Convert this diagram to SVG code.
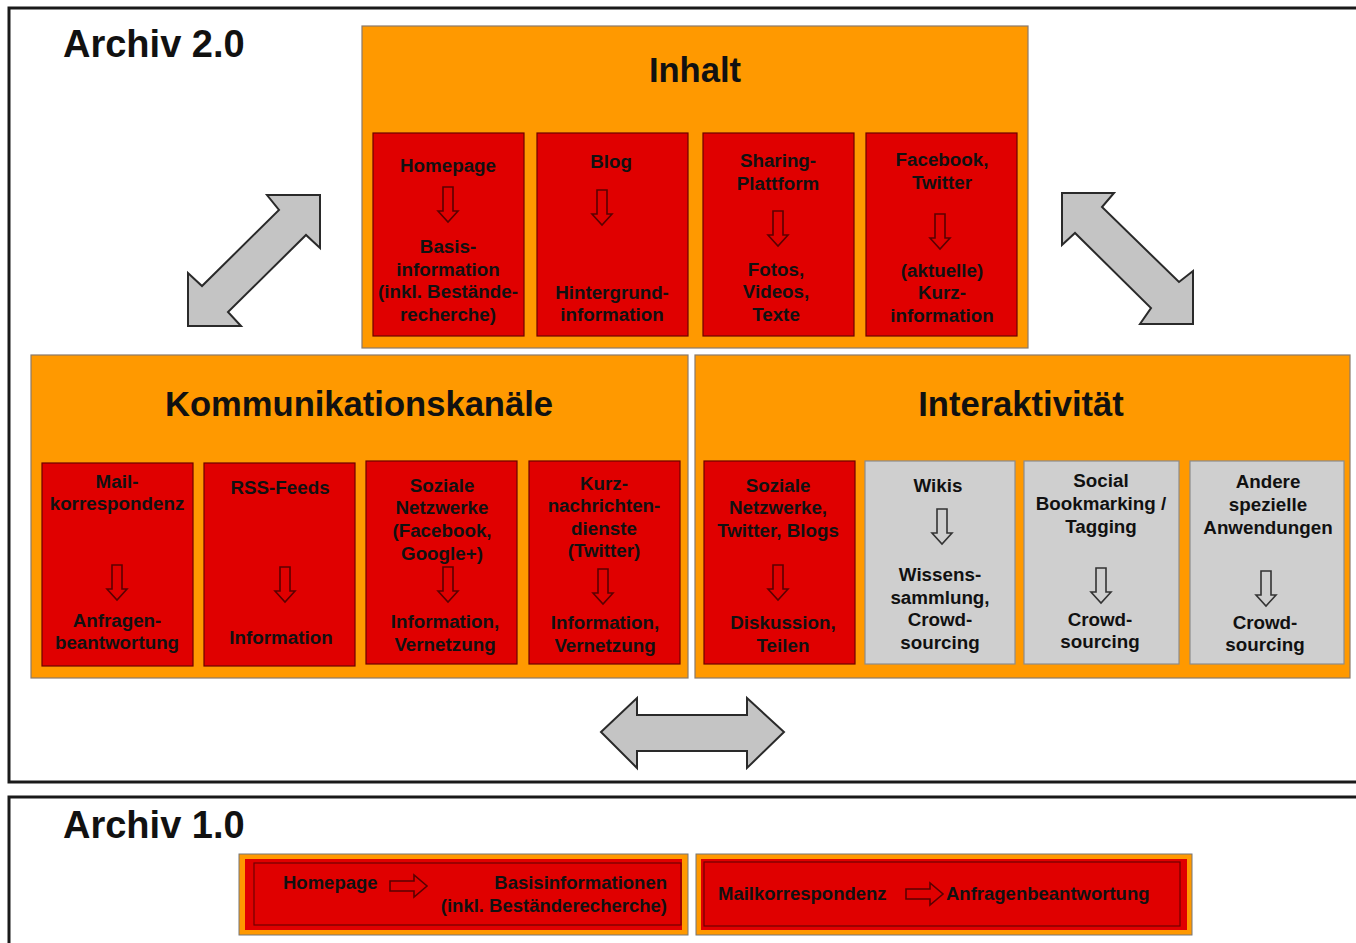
<svg xmlns="http://www.w3.org/2000/svg" xmlns:xlink="http://www.w3.org/1999/xlink" width="1356" height="943" viewBox="0 0 1356 943">
<style>
.frame{fill:none;stroke:#1a1a1a;stroke-width:3}
.cont{fill:#FF9900;stroke:#8a7a6a;stroke-width:1.2}
.red{fill:#E00000;stroke:#6b0000;stroke-width:1.2}
.gray{fill:#CFCFCF;stroke:#8c8c8c;stroke-width:1.2}
.big{fill:#C4C4C4;stroke:#2a2a2a;stroke-width:2;stroke-linejoin:miter}
.arr{fill:none;stroke:#5a0000;stroke-width:1.6}
.arrg{fill:none;stroke:#333;stroke-width:1.6}
.h1{font-family:"Liberation Sans",Arial,sans-serif;font-weight:bold;font-size:38px;fill:#111}
.h2{font-family:"Liberation Sans",Arial,sans-serif;font-weight:bold;font-size:34.6px;fill:#111;text-anchor:middle}
.t{font-family:"Liberation Sans",Arial,sans-serif;font-weight:bold;font-size:18.8px;fill:#111;text-anchor:middle}
.tl{font-family:"Liberation Sans",Arial,sans-serif;font-weight:bold;font-size:18.5px;fill:#111}
.tr{font-family:"Liberation Sans",Arial,sans-serif;font-weight:bold;font-size:18.5px;fill:#111;text-anchor:end}
</style>
<defs>
<path id="darr" d="M-5,0 H5 V24 H10 L0,35 L-10,24 H-5 Z"/>
<path id="rarr" d="M0,-5 H24 V-11 L37,0 L24,11 V5 H0 Z"/>
</defs>
<rect width="1356" height="943" fill="#ffffff"/>

<g id="archiv2">
<rect class="frame" x="9" y="8" width="1360" height="774"/>
<text class="h1" x="63" y="57">Archiv 2.0</text>
</g>

<g id="connectors">
<path class="big" d="M320,195 L267,195 L279,210 L202,286 L188,273 L188,326 L241,326 L228,312 L306,235 L320,248 Z"/>
<path class="big" d="M1062,193 L1114,193 L1102,207 L1179,282 L1193,271 L1193,324 L1140,324 L1151,308 L1075,233 L1062,245 Z"/>
<path class="big" d="M601,732 L637,698 L637,715 L747,715 L747,698 L784,732 L747,768 L747,751 L637,751 L637,768 Z"/>
</g>

<g id="inhalt">
<rect class="cont" x="362" y="26" width="666" height="322"/>
<text class="h2" x="695" y="82">Inhalt</text>
<g id="inhalt-homepage">
<rect class="red" x="373" y="133" width="151" height="203"/>
<text class="t" x="448" y="172">Homepage</text>
<use href="#darr" x="448" y="187" class="arr"/>
<text class="t" x="448" y="253">Basis-</text>
<text class="t" x="448" y="276">information</text>
<text class="t" x="448" y="298">(inkl. Bestände-</text>
<text class="t" x="448" y="321">recherche)</text>
</g>
<g id="inhalt-blog">
<rect class="red" x="537" y="133" width="151" height="203"/>
<text class="t" x="611" y="168">Blog</text>
<use href="#darr" x="602" y="190" class="arr"/>
<text class="t" x="612" y="299">Hintergrund-</text>
<text class="t" x="612" y="321">information</text>
</g>
<g id="inhalt-sharing">
<rect class="red" x="703" y="133" width="151" height="203"/>
<text class="t" x="778" y="167">Sharing-</text>
<text class="t" x="778" y="190">Plattform</text>
<use href="#darr" x="778" y="211" class="arr"/>
<text class="t" x="776" y="276">Fotos,</text>
<text class="t" x="776" y="298">Videos,</text>
<text class="t" x="776" y="321">Texte</text>
</g>
<g id="inhalt-facebook">
<rect class="red" x="866" y="133" width="151" height="203"/>
<text class="t" x="942" y="166">Facebook,</text>
<text class="t" x="942" y="189">Twitter</text>
<use href="#darr" x="940" y="214" class="arr"/>
<text class="t" x="942" y="277">(aktuelle)</text>
<text class="t" x="942" y="299">Kurz-</text>
<text class="t" x="942" y="322">information</text>
</g>
</g>

<g id="kommunikation">
<rect class="cont" x="31" y="355" width="657" height="323"/>
<text class="h2" x="359" y="416">Kommunikationskanäle</text>
<g id="komm-mail">
<rect class="red" x="42" y="463" width="151" height="203"/>
<text class="t" x="117" y="488">Mail-</text>
<text class="t" x="117" y="510">korrespondenz</text>
<use href="#darr" x="117" y="565" class="arr"/>
<text class="t" x="117" y="627">Anfragen-</text>
<text class="t" x="117" y="649">beantwortung</text>
</g>
<g id="komm-rss">
<rect class="red" x="204" y="463" width="151" height="203"/>
<text class="t" x="280" y="494">RSS-Feeds</text>
<use href="#darr" x="285" y="567" class="arr"/>
<text class="t" x="281" y="644">Information</text>
</g>
<g id="komm-soziale">
<rect class="red" x="366" y="461" width="151" height="203"/>
<text class="t" x="442" y="492">Soziale</text>
<text class="t" x="442" y="514">Netzwerke</text>
<text class="t" x="442" y="537">(Facebook,</text>
<text class="t" x="442" y="560">Google+)</text>
<use href="#darr" x="448" y="567" class="arr"/>
<text class="t" x="445" y="628">Information,</text>
<text class="t" x="445" y="651">Vernetzung</text>
</g>
<g id="komm-kurz">
<rect class="red" x="529" y="461" width="151" height="203"/>
<text class="t" x="604" y="490">Kurz-</text>
<text class="t" x="604" y="512">nachrichten-</text>
<text class="t" x="604" y="535">dienste</text>
<text class="t" x="604" y="557">(Twitter)</text>
<use href="#darr" x="603" y="569" class="arr"/>
<text class="t" x="605" y="629">Information,</text>
<text class="t" x="605" y="652">Vernetzung</text>
</g>
</g>

<g id="interaktivitaet">
<rect class="cont" x="695" y="355" width="655" height="323"/>
<text class="h2" x="1021" y="416">Interaktivität</text>
<g id="inter-soziale">
<rect class="red" x="704" y="461" width="151" height="203"/>
<text class="t" x="778" y="492">Soziale</text>
<text class="t" x="778" y="514">Netzwerke,</text>
<text class="t" x="778" y="537">Twitter, Blogs</text>
<use href="#darr" x="778" y="565" class="arr"/>
<text class="t" x="783" y="629">Diskussion,</text>
<text class="t" x="783" y="652">Teilen</text>
</g>
<g id="inter-wikis">
<rect class="gray" x="865" y="461" width="150" height="203"/>
<text class="t" x="938" y="492">Wikis</text>
<use href="#darr" x="942" y="509" class="arrg"/>
<text class="t" x="940" y="581">Wissens-</text>
<text class="t" x="940" y="604">sammlung,</text>
<text class="t" x="940" y="626">Crowd-</text>
<text class="t" x="940" y="649">sourcing</text>
</g>
<g id="inter-bookmarking">
<rect class="gray" x="1024" y="461" width="155" height="203"/>
<text class="t" x="1101" y="487">Social</text>
<text class="t" x="1101" y="510">Bookmarking /</text>
<text class="t" x="1101" y="533">Tagging</text>
<use href="#darr" x="1101" y="568" class="arrg"/>
<text class="t" x="1100" y="626">Crowd-</text>
<text class="t" x="1100" y="648">sourcing</text>
</g>
<g id="inter-andere">
<rect class="gray" x="1190" y="461" width="154" height="203"/>
<text class="t" x="1268" y="488">Andere</text>
<text class="t" x="1268" y="511">spezielle</text>
<text class="t" x="1268" y="534">Anwendungen</text>
<use href="#darr" x="1266" y="571" class="arrg"/>
<text class="t" x="1265" y="629">Crowd-</text>
<text class="t" x="1265" y="651">sourcing</text>
</g>
</g>

<g id="archiv1">
<rect class="frame" x="9" y="797" width="1360" height="160"/>
<text class="h1" x="63" y="838">Archiv 1.0</text>
<g id="a1-homepage">
<rect x="239" y="854" width="449" height="81" fill="#FF9900" stroke="#777" stroke-width="1"/>
<rect x="245" y="859" width="437" height="71" fill="#E00000"/>
<rect x="254" y="863" width="427" height="62" fill="none" stroke="#700000" stroke-width="1.2"/>
<text class="tl" x="283" y="889">Homepage</text>
<use href="#rarr" x="390" y="886" class="arr"/>
<text class="tr" x="667" y="889">Basisinformationen</text>
<text class="tr" x="667" y="912">(inkl. Beständerecherche)</text>
</g>
<g id="a1-mail">
<rect x="696" y="854" width="496" height="81" fill="#FF9900" stroke="#777" stroke-width="1"/>
<rect x="701" y="859" width="486" height="71" fill="#E00000"/>
<rect x="704" y="862" width="476" height="64" fill="none" stroke="#700000" stroke-width="1.2"/>
<text class="tl" x="718" y="900">Mailkorrespondenz</text>
<use href="#rarr" x="906" y="894" class="arr"/>
<text class="tl" x="946" y="900">Anfragenbeantwortung</text>
</g>
</g>
</svg>
